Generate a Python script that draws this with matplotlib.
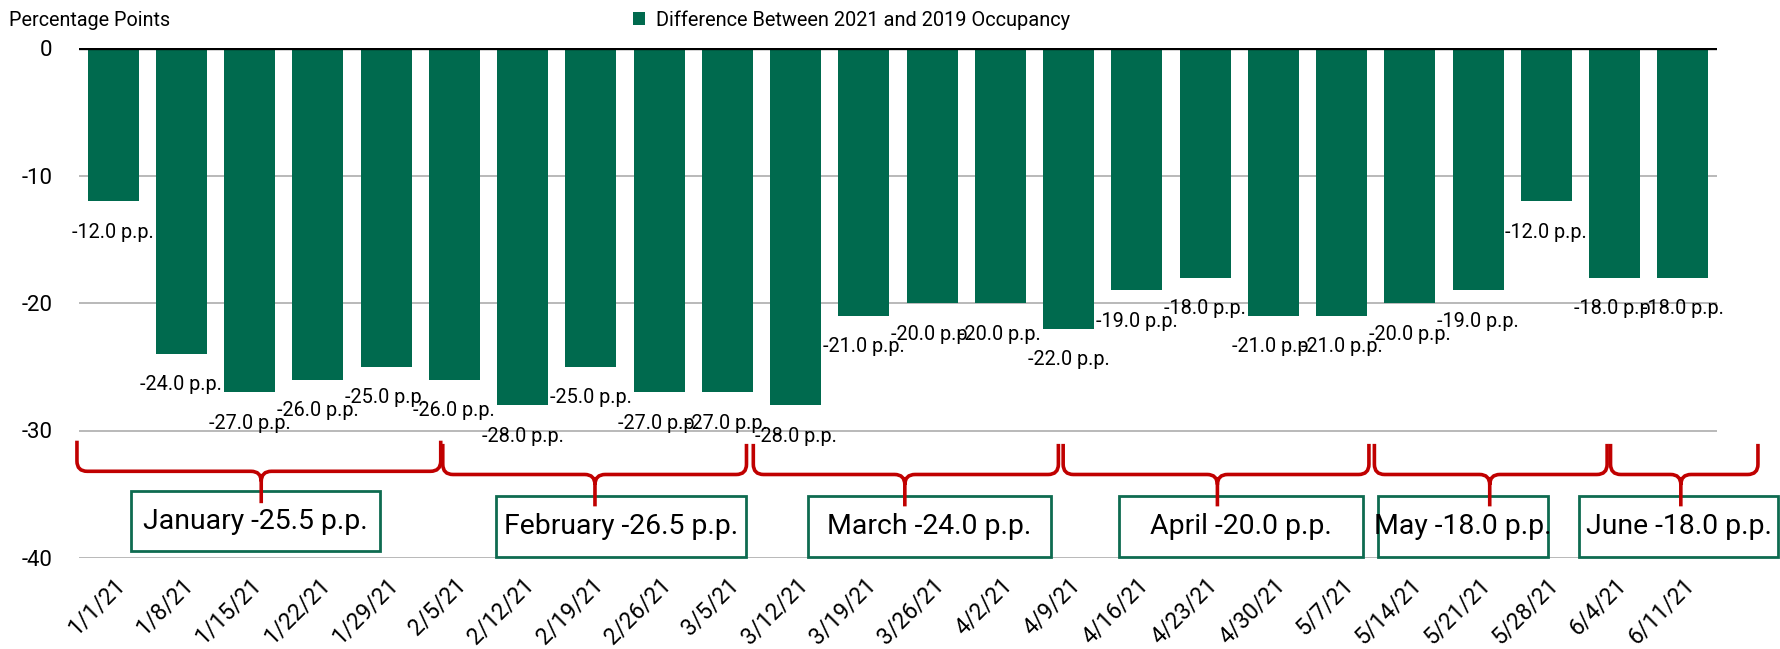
#!/usr/bin/env python3
"""plot.py — weekly difference between 2021 and 2019 occupancy, with monthly averages."""
import matplotlib
matplotlib.use("Agg")
import matplotlib.pyplot as plt
from matplotlib.patches import PathPatch, Rectangle
from matplotlib.path import Path

weeks = ["1/1/21", "1/8/21", "1/15/21", "1/22/21", "1/29/21", "2/5/21", "2/12/21",
         "2/19/21", "2/26/21", "3/5/21", "3/12/21", "3/19/21", "3/26/21", "4/2/21",
         "4/9/21", "4/16/21", "4/23/21", "4/30/21", "5/7/21", "5/14/21", "5/21/21",
         "5/28/21", "6/4/21", "6/11/21"]
diff_pp = [-12, -24, -27, -26, -25, -26, -28, -25, -27, -27, -28, -21, -20, -20,
           -22, -19, -18, -21, -21, -20, -19, -12, -18, -18]
months = ["January", "February", "March", "April", "May", "June"]
month_avg = [-25.5, -26.5, -24.0, -20.0, -18.0, -18.0]

# brace (left, tip, right) and box (left, right, top, bottom) in data units
brace_x = [(-0.53, 2.17, 4.80), (4.83, 7.06, 9.28), (9.38, 11.60, 13.85),
           (13.92, 16.18, 18.40), (18.48, 20.17, 21.89), (21.94, 22.97, 24.10)]
box_x = [(0.26, 3.91), (5.61, 9.27), (10.18, 13.74), (14.74, 18.31),
         (18.53, 21.02), (21.48, 24.40)]
box_y = [(-34.75, -39.45)] + [(-35.14, -39.92)] * 5

GREEN = "#006A4E"
RED = "#C00000"

plt.rcParams["font.family"] = ["Roboto", "DejaVu Sans"]
plt.rcParams["axes.unicode_minus"] = False


def brace(ax, x0, xt, x1, ytop, ymid, ytip, rx=0.15, ry=0.8):
    verts = [(x0, ytop), (x0, ymid + ry), (x0, ymid), (x0 + rx, ymid),
             (xt - rx, ymid), (xt, ymid), (xt, ymid - ry), (xt, ytip),
             (xt, ymid - ry), (xt, ymid), (xt + rx, ymid),
             (x1 - rx, ymid), (x1, ymid), (x1, ymid + ry), (x1, ytop)]
    codes = [Path.MOVETO, Path.LINETO, Path.CURVE3, Path.CURVE3,
             Path.LINETO, Path.CURVE3, Path.CURVE3, Path.LINETO,
             Path.MOVETO, Path.CURVE3, Path.CURVE3,
             Path.LINETO, Path.CURVE3, Path.CURVE3, Path.LINETO]
    ax.add_patch(PathPatch(Path(verts, codes), fill=False, edgecolor=RED, lw=2.6,
                           capstyle="butt", joinstyle="round", zorder=6, clip_on=False))


fig = plt.figure(figsize=(17.81, 6.49), dpi=100)
ax = fig.add_axes([79 / 1781, 1 - 558 / 649, (1717 - 79) / 1781, (558 - 48) / 649])

x = list(range(len(weeks)))
bars = ax.bar(x, diff_pp, width=0.745, color=GREEN, zorder=3,
              label="Difference Between 2021 and 2019 Occupancy")
for xi, v in zip(x, diff_pp):
    ax.annotate(f"{v:.1f} p.p.", (xi, v), xytext=(0, -31), textcoords="offset pixels",
                ha="center", va="center", fontsize=14.3, zorder=5)

ax.axhline(0, color="black", lw=2.4, zorder=4)
ax.set_xlim(-0.5, len(weeks) - 0.5)
ax.set_ylim(-40, 0)
ax.set_yticks([0, -10, -20, -30, -40])
ax.set_yticklabels(["0", "-10", "-20", "-30", "-40"], fontsize=16)
ax.set_xticks(x)
ax.set_xticklabels(weeks, rotation=45, ha="right", va="top",
                   rotation_mode="anchor", fontsize=16.5)
ax.tick_params(axis="y", length=0, pad=19)
ax.tick_params(axis="x", length=0, pad=11)
ax.grid(axis="y", color="#A6A6A6", lw=1.1, zorder=0)
for s in ax.spines.values():
    s.set_visible(False)

for i, m in enumerate(months):
    x0, xt, x1 = brace_x[i]
    off = 0.0 if i == 0 else -0.25
    brace(ax, x0, xt, x1, -30.8 + off, -33.2 + off, -35.7 + off)
    bl, br = box_x[i]
    bt, bb = box_y[i]
    ax.add_patch(Rectangle((bl, bb), br - bl, bt - bb, fill=True, facecolor="white",
                           edgecolor="#0E6B50", lw=2.0, zorder=5, clip_on=False))
    ax.text((bl + br) / 2, (bt + bb) / 2, f"{m} {month_avg[i]:.1f} p.p.",
            ha="center", va="center", fontsize=20.4, zorder=7, clip_on=False)

fig.text(9 / 1781, 1 - 20 / 649, "Percentage Points", ha="left", va="center", fontsize=14.2)
fig.legend(handles=[bars], loc="center", bbox_to_anchor=(852 / 1781, 1 - 20 / 649),
           frameon=False, fontsize=14.4, handlelength=0.6, handleheight=0.6,
           handletextpad=0.55, borderpad=0.1)

fig.savefig("out.png", dpi=100)
